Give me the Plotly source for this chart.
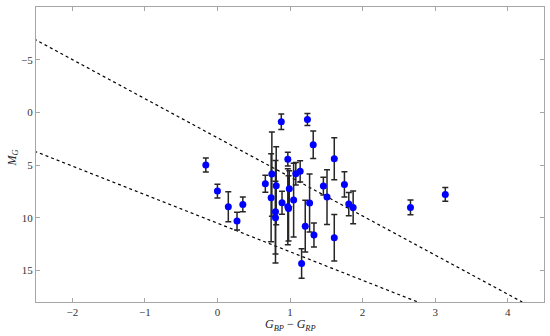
import plotly.graph_objects as go

# Data
color_index = [-0.16, 0.00, 0.15, 0.27, 0.35, 0.66, 0.74, 0.75, 0.81, 0.80,
               0.80, 0.88, 0.89, 0.97, 0.97, 0.98, 0.99, 1.05, 1.08, 1.14,
               1.24, 1.32, 1.21, 1.16, 1.27, 1.33, 1.46, 1.51, 1.61, 1.61,
               1.75, 1.81, 1.87, 2.66, 3.14]
abs_mag = [5.00, 7.47, 8.96, 10.32, 8.74, 6.78, 8.11, 5.86, 6.97, 9.44,
           10.00, 0.89, 8.58, 4.44, 8.96, 9.12, 7.25, 8.33, 5.83, 5.60,
           0.67, 3.07, 10.80, 14.34, 8.61, 11.65, 7.00, 8.04, 4.40, 11.90,
           6.84, 8.71, 9.02, 9.02, 7.79]
mag_err = [0.67, 0.65, 1.43, 0.85, 0.70, 0.80, 4.17, 4.00, 3.70, 4.86,
           3.45, 0.73, 1.10, 0.65, 3.60, 3.10, 1.70, 3.50, 1.07, 1.00,
           0.57, 1.30, 2.45, 1.40, 2.75, 1.14, 0.85, 2.60, 2.00, 2.20,
           1.20, 1.10, 1.55, 0.70, 0.65]

upper_line_x = [-2.6, 4.2]
upper_line_y = [-7.24, 18.0]
lower_line_x = [-2.6, 2.76]
lower_line_y = [3.47, 18.0]

x_ticks = [-2, -1, 0, 1, 2, 3, 4]
y_ticks = [-5, 0, 5, 10, 15]

font_family = "Liberation Serif, DejaVu Serif, serif"

fig = go.Figure()
for lx, ly in ((upper_line_x, upper_line_y), (lower_line_x, lower_line_y)):
    fig.add_trace(go.Scatter(x=lx, y=ly, mode="lines",
                             line=dict(color="black", width=1.2, dash="3px,3px"),
                             hoverinfo="skip", showlegend=False))

fig.add_trace(go.Scatter(
    x=color_index, y=abs_mag, mode="markers",
    marker=dict(color="#0000ff", size=7, line=dict(width=0)),
    error_y=dict(type="data", array=mag_err, visible=True,
                 color="#262626", thickness=1.5, width=3),
    showlegend=False))

axis_common = dict(showgrid=False, zeroline=False, showline=True, mirror="ticks",
                   linecolor="#a6a6a6", linewidth=1, ticks="inside", ticklen=4,
                   tickcolor="#a6a6a6", automargin=False,
                   tickfont=dict(family=font_family, size=11, color="#333"))

fig.update_layout(
    width=550, height=336,
    margin=dict(l=36, r=6, t=7, b=34),
    plot_bgcolor="white", paper_bgcolor="white",
    xaxis=dict(range=[-2.5, 4.5], tickvals=x_ticks, **axis_common),
    yaxis=dict(range=[18, -10], tickvals=y_ticks, **axis_common),
    annotations=[
        dict(text="<i>G</i><sub><i>BP</i></sub> − <i>G</i><sub><i>RP</i></sub>",
             xref="paper", yref="paper", x=0.5, y=0, yshift=-23,
             xanchor="center", yanchor="middle", showarrow=False,
             font=dict(family=font_family, size=12, color="#222")),
        dict(text="<i>M</i><sub><i>G</i></sub>",
             xref="paper", yref="paper", x=0, y=0.5, xshift=-24, yshift=-4,
             xanchor="center", yanchor="middle", textangle=-90, showarrow=False,
             font=dict(family=font_family, size=12, color="#222")),
    ],
)

fig.write_html("out.html", config={"displayModeBar": False},
               post_script="document.body.style.margin='0';document.body.style.overflow='hidden';")
